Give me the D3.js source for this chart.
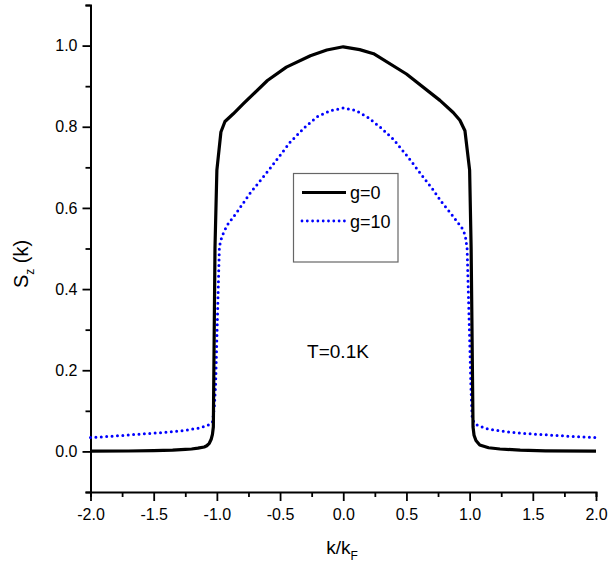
<!DOCTYPE html>
<html>
<head>
<meta charset="utf-8">
<script src="https://cdn.jsdelivr.net/npm/d3@7"></script>
<style>
  html, body { margin: 0; padding: 0; background: #fff; }
  svg { display: block; font-family: "Liberation Sans", Arial, sans-serif; }
</style>
</head>
<body>
<div id="chart"></div>
<script>
// Spin polarization S_z(k) versus k/k_F at T = 0.1 K
const kG0 = [-2.0, -1.7, -1.5, -1.35, -1.25, -1.2, -1.15, -1.1, -1.08, -1.06, -1.045, -1.035, -1.028,
  -1.015, -1.0, -0.968, -0.936, -0.87, -0.79, -0.6, -0.45, -0.26, -0.13, 0.0,
  0.13, 0.24, 0.5, 0.765, 0.87, 0.923, 0.963, 1.0, 1.012, 1.027, 1.035, 1.05, 1.08, 1.15, 1.24, 1.4, 1.6, 2.0];
const sG0 = [0.0005, 0.001, 0.002, 0.003, 0.005, 0.006, 0.008, 0.011, 0.014, 0.02, 0.03, 0.042, 0.06,
  0.5, 0.693, 0.787, 0.813, 0.832, 0.857, 0.914, 0.947, 0.975, 0.989, 0.997,
  0.99, 0.98, 0.93, 0.865, 0.835, 0.816, 0.79, 0.693, 0.5, 0.06, 0.04, 0.027, 0.016, 0.009, 0.006, 0.003, 0.0015, 0.0005];

const kG10 = [-2.0, -1.8, -1.6, -1.4, -1.25, -1.15, -1.08, -1.05, -1.035, -1.02, -1.01, -1.0, -0.98,
  -0.96, -0.92, -0.84, -0.74, -0.58, -0.42, -0.3, -0.21, -0.1, 0.0,
  0.1, 0.2, 0.3, 0.4, 0.5, 0.55, 0.63, 0.71, 0.78, 0.86, 0.94, 0.965, 0.98, 1.0, 1.01, 1.02, 1.035,
  1.06, 1.13, 1.25, 1.4, 1.6, 1.8, 2.0];
const sG10 = [0.034, 0.038, 0.043, 0.047, 0.052, 0.057, 0.063, 0.068, 0.072, 0.11, 0.165, 0.28, 0.505,
  0.53, 0.557, 0.59, 0.635, 0.697, 0.762, 0.8, 0.824, 0.84, 0.846,
  0.84, 0.822, 0.797, 0.768, 0.73, 0.71, 0.677, 0.645, 0.614, 0.583, 0.55, 0.533, 0.5, 0.28, 0.16, 0.085, 0.07,
  0.065, 0.056, 0.05, 0.045, 0.041, 0.037, 0.034];

const xTicks = [-2.0, -1.5, -1.0, -0.5, 0.0, 0.5, 1.0, 1.5, 2.0];
const xMinor = [-1.75, -1.25, -0.75, -0.25, 0.25, 0.75, 1.25, 1.75];
const yTicks = [0.0, 0.2, 0.4, 0.6, 0.8, 1.0];
const yMinor = [-0.1, 0.1, 0.3, 0.5, 0.7, 0.9, 1.1];
const legendLabels = ["g=0", "g=10"];
const tempLabel = "T=0.1K";

const W = 608, H = 569;
const margin = { left: 90.5, right: 12, top: 5, bottom: 77 };

const svg = d3.select("#chart").append("svg").attr("width", W).attr("height", H);

const x = d3.scaleLinear().domain([-2, 2]).range([margin.left, W - margin.right]);
const y = d3.scaleLinear().domain([-0.1, 1.1]).range([H - margin.bottom, margin.top]);

// one decimal, plain hyphen for negatives
const fmt = v => v.toFixed(1);

// x axis
const xAxisG = svg.append("g").attr("transform", `translate(0,${y(-0.1)})`);
xAxisG.call(d3.axisBottom(x).tickValues(xTicks).tickFormat(fmt).tickSize(9).tickPadding(8));
xAxisG.append("g").call(d3.axisBottom(x).tickValues(xMinor).tickFormat("").tickSize(5));

// y axis
const yAxisG = svg.append("g").attr("transform", `translate(${x(-2)},0)`);
yAxisG.call(d3.axisLeft(y).tickValues(yTicks).tickFormat(fmt).tickSize(8).tickPadding(5));
yAxisG.append("g").call(d3.axisLeft(y).tickValues(yMinor).tickFormat("").tickSize(5));

svg.selectAll(".domain").attr("stroke", "#000").attr("stroke-width", 2);
svg.selectAll(".tick line").attr("stroke", "#000").attr("stroke-width", 1.8);
svg.selectAll(".tick text").attr("font-size", 16).attr("fill", "#000")
  .attr("font-family", "'Liberation Sans', Arial, sans-serif");
// minor tick groups carry their own domain path; drop it
xAxisG.select("g .domain").remove();
yAxisG.select("g .domain").remove();

const line = d3.line().x(d => x(d[0])).y(d => y(d[1]));

// g = 10 : blue dotted
svg.append("path")
  .datum(d3.zip(kG10, sG10))
  .attr("d", line)
  .attr("fill", "none")
  .attr("stroke", "#0000ff")
  .attr("stroke-width", 3)
  .attr("stroke-linecap", "round")
  .attr("stroke-dasharray", "0 5.4");

// g = 0 : black solid
svg.append("path")
  .datum(d3.zip(kG0, sG0))
  .attr("d", line)
  .attr("fill", "none")
  .attr("stroke", "#000")
  .attr("stroke-width", 3.2)
  .attr("stroke-linejoin", "round");

// legend
const lg = svg.append("g");
lg.append("rect")
  .attr("x", 293.5).attr("y", 173.5).attr("width", 104.5).attr("height", 88.5)
  .attr("fill", "none").attr("stroke", "#666").attr("stroke-width", 1.2);
lg.append("line").attr("x1", 302).attr("x2", 346).attr("y1", 192.5).attr("y2", 192.5)
  .attr("stroke", "#000").attr("stroke-width", 3.2);
lg.append("line").attr("x1", 302).attr("x2", 346).attr("y1", 221).attr("y2", 221)
  .attr("stroke", "#0000ff").attr("stroke-width", 2.8)
  .attr("stroke-linecap", "round").attr("stroke-dasharray", "0 5.3");
lg.selectAll("text.leg").data(legendLabels).enter().append("text")
  .attr("class", "leg")
  .attr("x", 350).attr("y", (d, i) => 199 + i * 28.5)
  .attr("font-size", 18).attr("fill", "#000")
  .text(d => d);

// temperature annotation
svg.append("text").attr("x", 338).attr("y", 358).attr("text-anchor", "middle")
  .attr("font-size", 19).attr("fill", "#000").text(tempLabel);

// x axis title
const xt = svg.append("text").attr("x", 342).attr("y", 554).attr("text-anchor", "middle")
  .attr("font-size", 19).attr("fill", "#000");
xt.append("tspan").text("k/k");
xt.append("tspan").attr("font-size", 12).attr("dy", 6).text("F");

// y axis title
const yt = svg.append("text")
  .attr("transform", "translate(28,264) rotate(-90)")
  .attr("text-anchor", "middle")
  .attr("font-size", 20).attr("fill", "#000");
yt.append("tspan").text("S");
yt.append("tspan").attr("font-size", 12).attr("dy", 6).text("z");
yt.append("tspan").attr("dy", -6).text("  (k)");
</script>
</body>
</html>
